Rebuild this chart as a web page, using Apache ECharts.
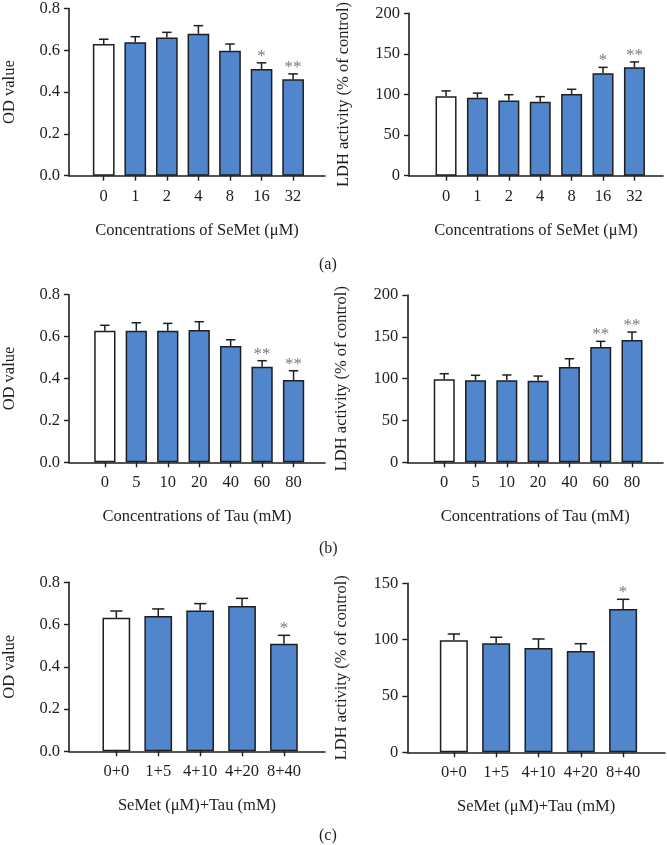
<!DOCTYPE html>
<html>
<head>
<meta charset="utf-8">
<script src="https://cdn.jsdelivr.net/npm/echarts@6/dist/echarts.min.js"></script>
<style>
html,body{margin:0;padding:0;background:#fff;}
#c{width:667px;height:845px;}
</style>
</head>
<body>
<div id="c"></div>
<script>
// ---------- data ----------
const semetCats = ['0', '1', '2', '4', '8', '16', '32'];
const semetOD = [0.630, 0.638, 0.661, 0.679, 0.598, 0.510, 0.462];
const semetODErr = [0.023, 0.027, 0.025, 0.039, 0.032, 0.030, 0.025];
const semetODSig = ['', '', '', '', '', '*', '**'];
const semetLDH = [98.0, 96.2, 92.6, 91.1, 100.6, 126.4, 133.5];
const semetLDHErr = [6.5, 5.6, 7.2, 6.3, 5.9, 7.1, 6.7];
const semetLDHSig = ['', '', '', '', '', '*', '**'];

const tauCats = ['0', '5', '10', '20', '40', '60', '80'];
const tauOD = [0.628, 0.628, 0.628, 0.632, 0.555, 0.456, 0.393];
const tauODErr = [0.026, 0.038, 0.035, 0.039, 0.030, 0.029, 0.044];
const tauODSig = ['', '', '', '', '', '**', '**'];
const tauLDH = [99.2, 98.0, 98.0, 97.6, 113.9, 137.8, 146.2];
const tauLDHErr = [6.7, 6.0, 6.4, 5.5, 9.9, 6.8, 9.5];
const tauLDHSig = ['', '', '', '', '', '**', '**'];

const comboCats = ['0+0', '1+5', '4+10', '4+20', '8+40'];
const comboOD = [0.632, 0.640, 0.667, 0.688, 0.509];
const comboODErr = [0.032, 0.034, 0.032, 0.036, 0.040];
const comboODSig = ['', '', '', '', '*'];
const comboLDH = [99.4, 96.7, 92.6, 89.9, 127.2];
const comboLDHErr = [5.6, 5.4, 8.0, 6.5, 8.6];
const comboLDHSig = ['', '', '', '', '*'];

const odTicks = [0, 0.2, 0.4, 0.6, 0.8];
const ldhTicks = [0, 50, 100, 150, 200];
const ldhComboTicks = [0, 50, 100, 150];

const titles = {
  od: 'OD value',
  ldh: 'LDH activity (% of control)',
  semet: 'Concentrations of SeMet (\u03bcM)',
  tau: 'Concentrations of Tau (mM)',
  combo: 'SeMet (\u03bcM)+Tau (mM)'
};
const panelLabels = ['(a)', '(b)', '(c)'];

// ---------- style ----------
const FONT = 'Liberation Serif';
const INK = '#1e1e1e';
const BLUE = '#5286cc';
const STAR = '#7a7a7a';

const panels = [
  {cats: semetCats, vals: semetOD, errs: semetODErr, sig: semetODSig, yTicks: odTicks, dec: 1, yName: titles.od, xName: titles.semet,
   grid: {left: 68.3, top: 6.7, width: 256.7, height: 169}, xr: [-1.10, 7.01], bw: 21.7},
  {cats: semetCats, vals: semetLDH, errs: semetLDHErr, sig: semetLDHSig, yTicks: ldhTicks, dec: 0, yName: titles.ldh, xName: titles.semet,
   grid: {left: 409, top: 7.3, width: 254, height: 168.4}, xr: [-1.18, 6.91], bw: 21},
  {cats: tauCats, vals: tauOD, errs: tauODErr, sig: tauODSig, yTicks: odTicks, dec: 1, yName: titles.od, xName: titles.tau,
   grid: {left: 68.3, top: 294.7, width: 256.7, height: 167.6}, xr: [-1.14, 7.0], bw: 21.3},
  {cats: tauCats, vals: tauLDH, errs: tauLDHErr, sig: tauLDHSig, yTicks: ldhTicks, dec: 0, yName: titles.ldh, xName: titles.tau,
   grid: {left: 407.3, top: 295, width: 255.7, height: 167.3}, xr: [-1.18, 6.99], bw: 21},
  {cats: comboCats, vals: comboOD, errs: comboODErr, sig: comboODSig, yTicks: odTicks, dec: 1, yName: titles.od, xName: titles.combo,
   grid: {left: 65.7, top: 582.3, width: 259.3, height: 169}, xr: [-1.13, 4.98], bw: 27.7},
  {cats: comboCats, vals: comboLDH, errs: comboLDHErr, sig: comboLDHSig, yTicks: ldhComboTicks, dec: 0, yName: titles.ldh, xName: titles.combo,
   grid: {left: 407.3, top: 583.3, width: 257.7, height: 169}, xr: [-1.10, 4.99], bw: 28}
];

const grids = [], xAxes = [], yAxes = [], series = [];
panels.forEach((p, k) => {
  grids.push(Object.assign({containLabel: false}, p.grid));
  const idxs = p.cats.map((c, i) => i);
  xAxes.push({
    type: 'value', gridIndex: k, min: p.xr[0], max: p.xr[1],
    splitLine: {show: false},
    axisLine: {show: true, onZero: false, lineStyle: {color: INK, width: 1.6}},
    axisTick: {show: true, customValues: idxs, length: 5, lineStyle: {color: INK, width: 1.4}},
    axisLabel: {show: true, customValues: idxs, margin: 12, color: INK, fontFamily: FONT, fontSize: 16.5,
      formatter: v => p.cats[Math.round(v)]},
    name: p.xName, nameLocation: 'middle', nameGap: 46,
    nameTextStyle: {color: INK, fontFamily: FONT, fontSize: 16.5}
  });
  const yt = p.yTicks;
  yAxes.push({
    type: 'value', gridIndex: k, min: yt[0], max: yt[yt.length - 1], interval: yt[1] - yt[0],
    splitLine: {show: false},
    axisLine: {show: true, onZero: false, lineStyle: {color: INK, width: 1.6}},
    axisTick: {show: true, length: 5, lineStyle: {color: INK, width: 1.4}},
    axisLabel: {margin: 9, color: INK, fontFamily: FONT, fontSize: 16.5, formatter: v => v.toFixed(p.dec)},
    name: p.yName, nameLocation: 'middle', nameRotate: 90,
    nameGap: p.dec === 1 ? 51 : 57,
    nameTextStyle: {color: INK, fontFamily: FONT, fontSize: 16.5}
  });
  const capHalf = p.bw * 0.22;
  series.push({
    type: 'custom', xAxisIndex: k, yAxisIndex: k, z: 1,
    data: p.vals.map((v, i) => [i, v, v + p.errs[i]]),
    encode: {x: 0, y: [1, 2]},
    renderItem: (params, api) => {
      const i = params.dataIndex;
      const lo = api.coord([i, p.vals[i]]);
      const hi = api.coord([i, p.vals[i] + p.errs[i]]);
      const s = p.sig[i];
      const children = [
        {type: 'line', shape: {x1: lo[0], y1: lo[1], x2: hi[0], y2: hi[1]}, style: {stroke: INK, lineWidth: 1.5}},
        {type: 'line', shape: {x1: hi[0] - capHalf, y1: hi[1], x2: hi[0] + capHalf, y2: hi[1]}, style: {stroke: INK, lineWidth: 1.5}}
      ];
      if (s) {
        children.push({type: 'text', x: hi[0], y: hi[1] + 2,
          style: {text: s, fill: STAR, font: '17px "' + FONT + '"', align: 'center', verticalAlign: 'bottom'}});
      }
      return {type: 'group', children};
    }
  });
  series.push({
    type: 'bar', xAxisIndex: k, yAxisIndex: k, z: 2, barWidth: p.bw,
    data: p.vals.map((v, i) => ({
      value: [i, v],
      itemStyle: {color: i === 0 ? '#ffffff' : BLUE, borderColor: INK, borderWidth: 1.5}
    }))
  });
});

const labelPos = [[329, 266], [329, 550], [329, 837]];
const chart = echarts.init(document.getElementById('c'), null, {renderer: 'canvas'});
chart.setOption({
  backgroundColor: '#ffffff',
  animation: false,
  grid: grids, xAxis: xAxes, yAxis: yAxes, series,
  graphic: panelLabels.map((t, i) => ({
    type: 'text', left: labelPos[i][0] - 10, top: labelPos[i][1] - 9,
    style: {text: t, fill: INK, font: '16px "' + FONT + '"'}
  }))
});
</script>
</body>
</html>
